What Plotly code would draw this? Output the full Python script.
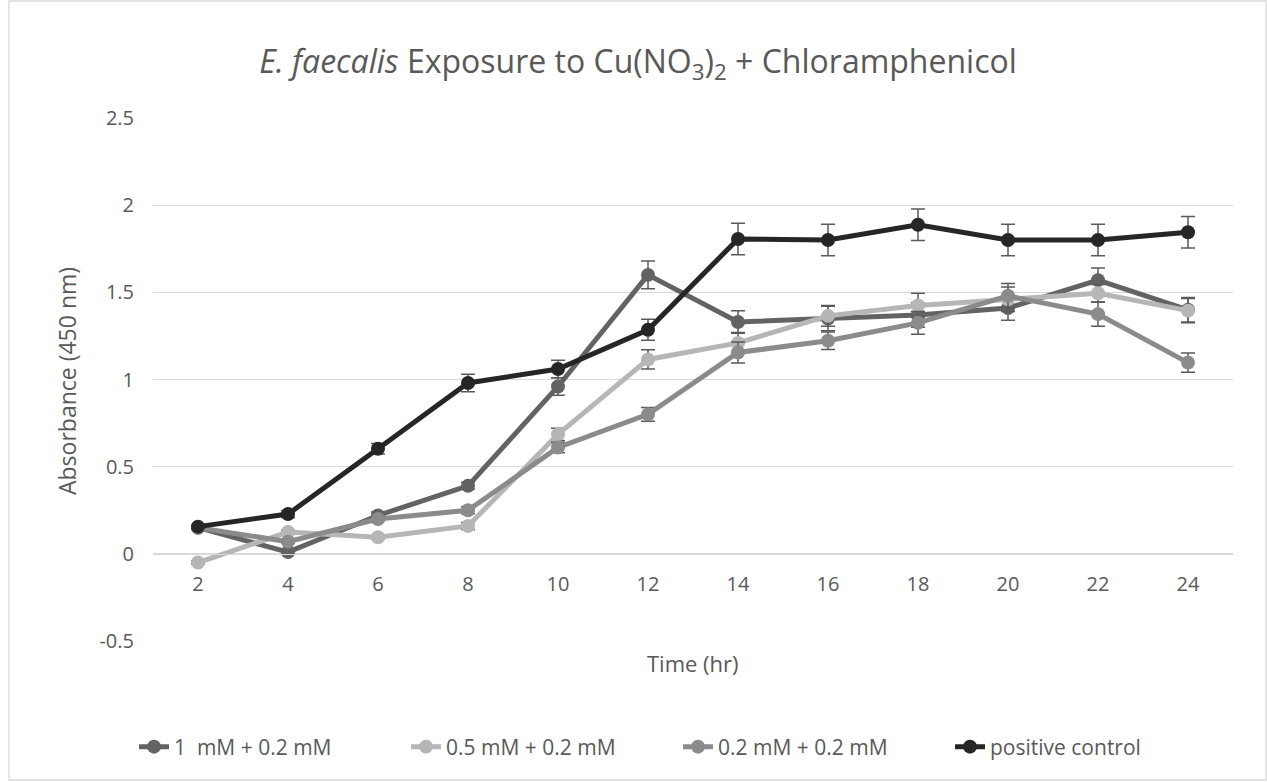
import plotly.graph_objects as go

# ---- data ----
hours = ["2", "4", "6", "8", "10", "12", "14", "16", "18", "20", "22", "24"]

cu_1mM = [0.15, 0.01, 0.22, 0.39, 0.96, 1.60, 1.33, 1.35, 1.37, 1.41, 1.57, 1.40]
cu_1mM_err = [0.01, 0.01, 0.02, 0.02, 0.05, 0.08, 0.065, 0.07, 0.07, 0.07, 0.07, 0.07]

cu_05mM = [-0.05, 0.125, 0.095, 0.16, 0.685, 1.115, 1.21, 1.365, 1.425, 1.46, 1.495, 1.395]
cu_05mM_err = [0.01, 0.01, 0.01, 0.02, 0.035, 0.055, 0.06, 0.06, 0.07, 0.07, 0.05, 0.07]

cu_02mM = [0.15, 0.07, 0.20, 0.25, 0.61, 0.80, 1.155, 1.222, 1.325, 1.48, 1.375, 1.097]
cu_02mM_err = [0.01, 0.01, 0.01, 0.02, 0.03, 0.04, 0.06, 0.05, 0.065, 0.07, 0.07, 0.055]

pos_ctrl = [0.156, 0.228, 0.603, 0.98, 1.06, 1.285, 1.806, 1.80, 1.888, 1.80, 1.80, 1.845]
pos_ctrl_err = [0.01, 0.02, 0.03, 0.05, 0.05, 0.06, 0.09, 0.09, 0.09, 0.09, 0.09, 0.09]

y_tickvals = [-0.5, 0, 0.5, 1, 1.5, 2, 2.5]
y_ticktext = ["-0.5", "0", "0.5", "1", "1.5", "2", "2.5"]

series_names = ["1\u00a0 mM + 0.2 mM", "0.5 mM + 0.2 mM", "0.2 mM + 0.2 mM", "positive control"]
series_vals = [cu_1mM, cu_05mM, cu_02mM, pos_ctrl]
series_errs = [cu_1mM_err, cu_05mM_err, cu_02mM_err, pos_ctrl_err]
series_colors = ["#636363", "#b6b6b6", "#8b8b8b", "#262626"]

# ---- layout geometry (pixels) ----
W, H = 1267, 782
L, R, T, B = 153, 34, 118, 141
PW = W - L - R
PH = H - T - B
FONT = "Open Sans"
TXT = "#595959"

def px_x(px):
    return (px - L) / PW

def px_y(py):
    return (H - B - py) / PH

fig = go.Figure()
for name, vals, errs, col in zip(series_names, series_vals, series_errs, series_colors):
    fig.add_trace(go.Scatter(
        x=hours, y=vals, name=name, mode="lines+markers",
        line=dict(color=col, width=5),
        marker=dict(color=col, size=14),
        error_y=dict(type="data", array=errs, visible=True,
                     color="#5a5a5a", thickness=1.5, width=7),
    ))

fig.update_layout(
    width=W, height=H,
    margin=dict(l=L, r=R, t=T, b=B),
    paper_bgcolor="white", plot_bgcolor="white",
    font=dict(family=FONT, color=TXT),
    title=dict(
        text="<i>E. faecalis</i> Exposure to Cu(NO<sub>3</sub>)<sub>2</sub> + Chloramphenicol",
        x=638 / W, xref="container", xanchor="center",
        y=1 - 62 / H, yref="container", yanchor="middle",
        font=dict(family=FONT, size=32, color=TXT),
    ),
    showlegend=True,
    legend=dict(
        orientation="h", x=px_x(134), xanchor="left",
        y=px_y(747), yanchor="middle",
        font=dict(family=FONT, size=21, color=TXT),
        entrywidth=227, entrywidthmode="pixels",
        bgcolor="rgba(0,0,0,0)",
    ),
)

fig.update_xaxes(
    type="category", categoryorder="array", categoryarray=hours,
    range=[-0.5, len(hours) - 0.5],
    anchor="free", position=0.5 / 3.0,
    showgrid=False, zeroline=False,
    showline=True, linecolor="#d9d9d9", linewidth=1.3,
    ticks="", ticklabelstandoff=12,
    tickfont=dict(family=FONT, size=20, color=TXT),
)
fig.update_yaxes(
    range=[-0.5, 2.5], tickvals=y_tickvals, ticktext=y_ticktext,
    showgrid=True, gridcolor="#d9d9d9", gridwidth=1.3,
    zeroline=False, showline=False, ticks="", ticklabelstandoff=18,
    tickfont=dict(family=FONT, size=20, color=TXT),
)

fig.add_annotation(text="Time (hr)", xref="paper", yref="paper",
                   x=px_x(693), y=px_y(663), xanchor="center", yanchor="middle",
                   showarrow=False, font=dict(family=FONT, size=22, color=TXT))
fig.add_annotation(text="Absorbance (450 nm)", xref="paper", yref="paper",
                   x=px_x(67), y=px_y(381), xanchor="center", yanchor="middle",
                   textangle=-90, showarrow=False,
                   font=dict(family=FONT, size=23, color=TXT))

fig.add_shape(type="rect", xref="paper", yref="paper",
              x0=px_x(9), x1=px_x(1266), y0=px_y(780), y1=px_y(1),
              line=dict(color="#d9d9d9", width=1.3), layer="below")

fig.write_html("out.html")
